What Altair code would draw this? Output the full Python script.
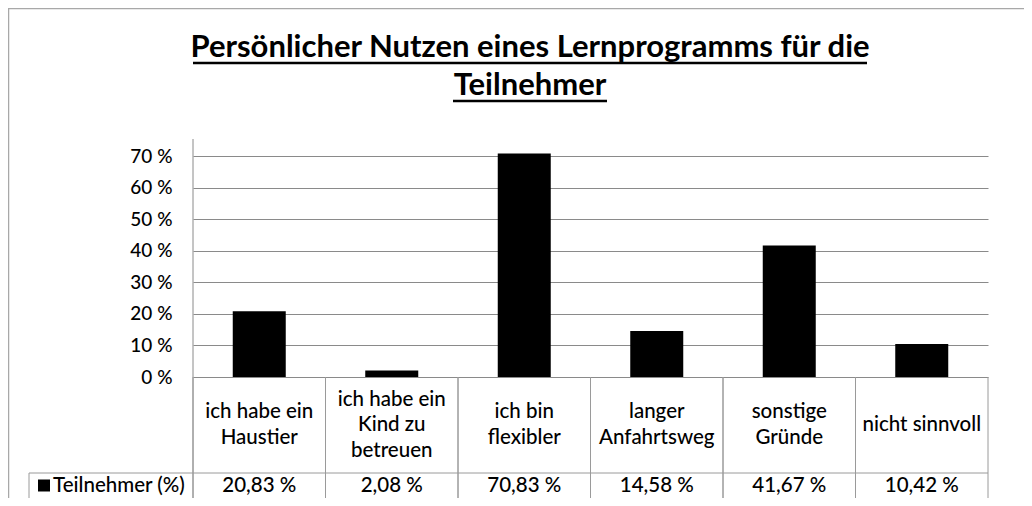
import altair as alt
import pandas as pd

# ---- data ----
title_lines = ["Persönlicher Nutzen eines Lernprogramms für die", "Teilnehmer"]
categories = ["ich habe ein Haustier", "ich habe ein Kind zu betreuen", "ich bin flexibler",
              "langer Anfahrtsweg", "sonstige Gründe", "nicht sinnvoll"]
category_lines = [["ich habe ein", "Haustier"], ["ich habe ein", "Kind zu", "betreuen"],
                  ["ich bin", "flexibler"], ["langer", "Anfahrtsweg"], ["sonstige", "Gründe"],
                  ["nicht sinnvoll"]]
values = [20.83, 2.08, 70.83, 14.58, 41.67, 10.42]
value_labels = ["20,83 %", "2,08 %", "70,83 %", "14,58 %", "41,67 %", "10,42 %"]
series_name = "Teilnehmer (%)"
y_ticks = [0, 10, 20, 30, 40, 50, 60, 70]

df = pd.DataFrame({"cat": categories, "lines": category_lines, "val": values, "vlabel": value_labels})

# ---- layout ----
W, H = 795, 238
PAD_L, PAD_T, PAD_R, PAD_B = 185, 131, 36, 121
BOTTOM = H + PAD_B
FONT = "Lato"
FS = 20.5
FW = 500
LH = 25.5
ROW2 = 346.5
GRID = "#8a8a8a"
TABLE = "#9a9a9a"
FRAME = "#a8a8a8"

xscale = alt.Scale(paddingInner=0, paddingOuter=0)
one = alt.Data(values=[{}])


def xenc(band=0.5):
    return alt.X("cat:N", sort=categories, scale=xscale, axis=None, bandPosition=band)


yenc = alt.Y("val:Q",
             scale=alt.Scale(domain=[0, 75.4], nice=False, zero=True),
             axis=alt.Axis(values=y_ticks, labelExpr="datum.value + ' %'", title=None,
                           domain=False, ticks=False, grid=True, gridColor=GRID,
                           labelPadding=21, labelFontSize=19, labelFont=FONT,
                           labelFontWeight=FW, labelColor="black"))

base = alt.Chart(df)

bars = base.mark_bar(color="black", width=alt.RelativeBandSize(0.4)).encode(x=xenc(), y=yenc)

frame_top = alt.Chart(one).mark_rule(color=FRAME, strokeWidth=1.5).encode(
    x=alt.value(-PAD_L), x2=alt.value(W + PAD_R), y=alt.value(-PAD_T + 0.5))
frame_left = alt.Chart(one).mark_rule(color=FRAME, strokeWidth=1.5).encode(
    x=alt.value(-PAD_L + 0.5), y=alt.value(-PAD_T), y2=alt.value(BOTTOM))

axis_line = alt.Chart(one).mark_rule(color=GRID).encode(
    x=alt.value(0), y=alt.value(0), y2=alt.value(BOTTOM))

col_left = base.mark_rule(color=TABLE).encode(x=xenc(0), y=alt.value(H), y2=alt.value(BOTTOM))
col_right = base.mark_rule(color=TABLE).encode(x=xenc(1), y=alt.value(H), y2=alt.value(BOTTOM))

row_line = alt.Chart(one).mark_rule(color=TABLE).encode(
    x=alt.value(-164), x2=alt.value(W), y=alt.value(334))
legend_border = alt.Chart(one).mark_rule(color=TABLE).encode(
    x=alt.value(-164), y=alt.value(334), y2=alt.value(BOTTOM))

cat_text = base.transform_calculate(
    ty=f"286 - (length(datum.lines) - 1) * {LH / 2}"
).mark_text(font=FONT, fontSize=FS, fontWeight=FW, lineHeight=LH, baseline="middle",
            align="center", color="black").encode(
    x=xenc(), y=alt.Y("ty:Q", scale=None), text="lines")

val_text = base.mark_text(font=FONT, fontSize=FS, baseline="middle", align="center",
                          color="black", fontWeight=FW).encode(
    x=xenc(), y=alt.value(ROW2), text="vlabel:N")

legend_sq = alt.Chart(one).mark_square(size=144, color="black", opacity=1).encode(
    x=alt.value(-149), y=alt.value(ROW2))
legend_txt = alt.Chart(alt.Data(values=[{"t": series_name}])).mark_text(
    font=FONT, fontSize=FS, fontWeight=FW, baseline="middle", align="left",
    color="black").encode(
    x=alt.value(-140), y=alt.value(ROW2), text="t:N")

title_df = pd.DataFrame({"t": title_lines, "yy": [-82, -44]})
title_txt = alt.Chart(title_df).mark_text(font=FONT, fontSize=31, fontWeight="bold",
                                          baseline="alphabetic", align="center",
                                          color="black").encode(
    x=alt.value(337), y=alt.Y("yy:Q", scale=None), text="t:N")

ul_df = pd.DataFrame({"x0": [0, 260], "x1": [674, 414], "yy": [-76, -38]})
underline = alt.Chart(ul_df).mark_rule(color="black", strokeWidth=2.5).encode(
    x=alt.X("x0:Q", scale=None), x2="x1:Q", y=alt.Y("yy:Q", scale=None))

chart = alt.layer(
    frame_top, frame_left, bars, axis_line, col_left, col_right, row_line, legend_border,
    cat_text, val_text, legend_sq, legend_txt, title_txt, underline
).resolve_scale(y="independent").properties(
    width=W, height=H,
    autosize=alt.AutoSizeParams(type="none"),
    padding={"left": PAD_L, "top": PAD_T, "right": PAD_R, "bottom": PAD_B},
    background="white",
).configure_view(stroke=None)

chart.save("out.html", embed_options={"renderer": "svg", "actions": False})
